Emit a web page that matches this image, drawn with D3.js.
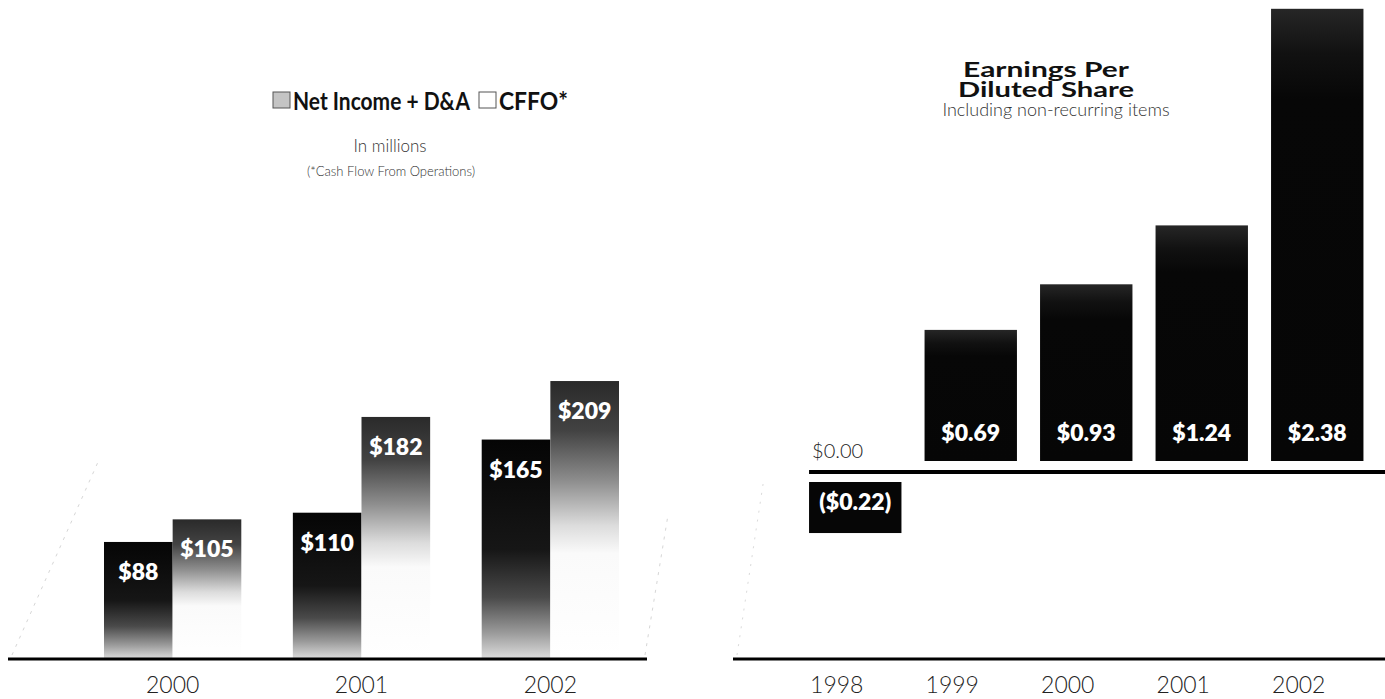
<!DOCTYPE html>
<html><head><meta charset="utf-8">
<script src="https://cdn.jsdelivr.net/npm/d3@7"></script>
<style>
body{margin:0;background:#fff;}
svg{display:block;}
</style></head><body>
<svg id="chart" width="1385" height="699"></svg>
<script>
// ---------- data ----------
const cfYears = ["2000", "2001", "2002"];
const cfSeries = ["Net Income + D&A", "CFFO*"];
const netIncomeDA = [88, 110, 165];
const cffo = [105, 182, 209];
const epsYears = ["1998", "1999", "2000", "2001", "2002"];
const epsValues = [-0.22, 0.69, 0.93, 1.24, 2.38];
const zeroLabel = "$0.00";
const epsTitle = ["Earnings Per", "Diluted Share"];
const epsSubtitle = "Including non-recurring items";
const cfSubtitle = ["In millions", "(*Cash Flow From Operations)"];

// ---------- setup ----------
const svg = d3.select("#chart");
const defs = svg.append("defs");
function grad(id, stops) {
  const g = defs.append("linearGradient").attr("id", id)
    .attr("x1", 0).attr("y1", 0).attr("x2", 0).attr("y2", 1);
  stops.forEach(([o, c]) => g.append("stop").attr("offset", o).attr("stop-color", c));
}
grad("gNI", [[0, "#050505"], [0.5, "#161616"], [0.72, "#4a4a4a"], [0.88, "#9a9a9a"], [1, "#dedede"]]);
grad("gCF", [[0, "#2a2a2a"], [0.18, "#434343"], [0.36, "#8e8e8e"], [0.52, "#dcdcdc"], [0.62, "#fafafa"], [1, "#ffffff"]]);
grad("gEPS", [[0, "#262626"], [0.1, "#111"], [0.2, "#070707"], [1, "#060606"]]);

const boldFont = "Lato, 'Open Sans', sans-serif";
const lightFont = "Lato, 'Noto Sans', sans-serif";

// ---------- LEFT CHART ----------
const left = svg.append("g");
const x0 = d3.scaleBand().domain(cfYears).range([104, 619]).paddingInner(0.273).paddingOuter(0);
const x1 = d3.scaleBand().domain(cfSeries).range([0, x0.bandwidth()]);
const yL = d3.scaleLinear().domain([0, 250]).range([659, 659 - 1.33 * 250]);
const fills = { [cfSeries[0]]: "url(#gNI)", [cfSeries[1]]: "url(#gCF)" };

const cfRows = cfYears.map((yr, i) => ({
  year: yr,
  values: [{ s: cfSeries[0], v: netIncomeDA[i] }, { s: cfSeries[1], v: cffo[i] }]
}));

// faint perspective lines
left.append("line").attr("x1", 12).attr("y1", 655).attr("x2", 98).attr("y2", 462)
  .attr("stroke", "#d6d6d6").attr("stroke-width", 1).attr("stroke-dasharray", "3,6");
left.append("line").attr("x1", 645).attr("y1", 655).attr("x2", 668).attr("y2", 515)
  .attr("stroke", "#d6d6d6").attr("stroke-width", 1).attr("stroke-dasharray", "3,6");

const grp = left.selectAll("g.grp").data(cfRows).enter().append("g")
  .attr("class", "grp").attr("transform", d => `translate(${x0(d.year)},0)`);
grp.selectAll("rect").data(d => d.values).enter().append("rect")
  .attr("x", d => x1(d.s)).attr("y", d => yL(d.v))
  .attr("width", x1.bandwidth()).attr("height", d => yL(0) - yL(d.v))
  .attr("fill", d => fills[d.s]);
grp.selectAll("text").data(d => d.values).enter().append("text")
  .attr("x", d => x1(d.s) + x1.bandwidth() / 2).attr("y", d => yL(d.v) + 38)
  .attr("text-anchor", "middle").attr("fill", "#fff")
  .attr("font-family", boldFont).attr("font-weight", 800).attr("font-size", 23)
  .text(d => "$" + d.v);

left.append("line").attr("x1", 8).attr("x2", 647).attr("y1", 659).attr("y2", 659)
  .attr("stroke", "#000").attr("stroke-width", 3);

const axL = left.append("g").attr("transform", "translate(0,659)")
  .call(d3.axisBottom(x0).tickSize(0));
axL.select(".domain").remove();
axL.selectAll("text").attr("y", 34).attr("dy", 0)
  .attr("font-family", lightFont).attr("font-weight", 300).attr("font-size", 23).attr("fill", "#222");

// legend
const lg = left.append("g");
const legendX = [273, 479];
const legendW = [177, 69];
const legendFill = ["#c4c4c4", "#ffffff"];
cfSeries.forEach((s, i) => {
  lg.append("rect").attr("x", legendX[i]).attr("y", 92).attr("width", 17).attr("height", 16)
    .attr("fill", legendFill[i]).attr("stroke", "#555").attr("stroke-width", 1);
  lg.append("text").attr("x", legendX[i] + 20).attr("y", 110)
    .attr("font-family", boldFont).attr("font-weight", 700).attr("font-size", 24).attr("fill", "#111")
    .attr("textLength", legendW[i]).attr("lengthAdjust", "spacingAndGlyphs")
    .text(s);
});
left.append("text").attr("x", 390).attr("y", 152).attr("text-anchor", "middle")
  .attr("font-family", lightFont).attr("font-weight", 300).attr("font-size", 17).attr("fill", "#333")
  .text(cfSubtitle[0]);
left.append("text").attr("x", 391).attr("y", 176).attr("text-anchor", "middle")
  .attr("font-family", lightFont).attr("font-weight", 300).attr("font-size", 13).attr("fill", "#333")
  .text(cfSubtitle[1]);

// ---------- RIGHT CHART ----------
const right = svg.append("g");
const xR = d3.scaleBand().domain(epsYears).range([797.5, 1375]).paddingInner(0.2).paddingOuter(0.1);
const yR = d3.scaleLinear().domain([0, 2.5]).range([461, 461 - 190 * 2.5]);
const yRneg = d3.scaleLinear().domain([0, -1]).range([482, 482 + 232]);
const fmt = d3.format(".2f");
const epsRows = epsYears.map((yr, i) => ({ year: yr, v: epsValues[i] }));

right.append("line").attr("x1", 737).attr("y1", 655).attr("x2", 764).attr("y2", 478)
  .attr("stroke", "#dadada").attr("stroke-width", 1).attr("stroke-dasharray", "2,7");

right.selectAll("rect.bar").data(epsRows).enter().append("rect").attr("class", "bar")
  .attr("x", d => xR(d.year)).attr("width", xR.bandwidth())
  .attr("y", d => d.v >= 0 ? yR(d.v) : yRneg(0))
  .attr("height", d => d.v >= 0 ? yR(0) - yR(d.v) : yRneg(d.v) - yRneg(0))
  .attr("fill", d => d.v >= 0 ? "url(#gEPS)" : "#060606");

right.selectAll("text.val").data(epsRows).enter().append("text").attr("class", "val")
  .attr("x", d => xR(d.year) + xR.bandwidth() / 2)
  .attr("y", d => d.v >= 0 ? yR(0) - 20 : yRneg(0) + 28)
  .attr("text-anchor", "middle").attr("fill", "#fff")
  .attr("font-family", boldFont).attr("font-weight", 800).attr("font-size", 23)
  .text(d => d.v >= 0 ? "$" + fmt(d.v) : "($" + fmt(-d.v) + ")");

// zero line
right.append("line").attr("x1", xR(epsYears[0])).attr("x2", 1385).attr("y1", 472).attr("y2", 472)
  .attr("stroke", "#000").attr("stroke-width", 4);
right.append("text").attr("x", xR(epsYears[0]) + 3).attr("y", 458)
  .attr("font-family", lightFont).attr("font-weight", 300).attr("font-size", 20).attr("fill", "#222")
  .text(zeroLabel);

// bottom axis
right.append("line").attr("x1", 733).attr("x2", 1385).attr("y1", 659).attr("y2", 659)
  .attr("stroke", "#000").attr("stroke-width", 3);
const axR = right.append("g").attr("transform", "translate(0,659)")
  .call(d3.axisBottom(xR).tickSize(0));
axR.select(".domain").remove();
axR.selectAll("text").attr("x", -xR.bandwidth() / 2 + 1).attr("y", 34).attr("dy", 0)
  .attr("text-anchor", "start")
  .attr("font-family", lightFont).attr("font-weight", 300).attr("font-size", 23).attr("fill", "#222");

// title
const titleW = [166, 176];
const titleY = [77, 97];
epsTitle.forEach((t, i) => {
  right.append("text").attr("x", 1046 - titleW[i] / 2).attr("y", titleY[i])
    .attr("font-family", boldFont).attr("font-weight", 700).attr("font-size", 21).attr("fill", "#111")
    .attr("textLength", titleW[i]).attr("lengthAdjust", "spacingAndGlyphs")
    .text(t);
});
right.append("text").attr("x", 1056).attr("y", 116).attr("text-anchor", "middle")
  .attr("font-family", lightFont).attr("font-weight", 300).attr("font-size", 18).attr("fill", "#333")
  .text(epsSubtitle);
</script>
</body></html>
